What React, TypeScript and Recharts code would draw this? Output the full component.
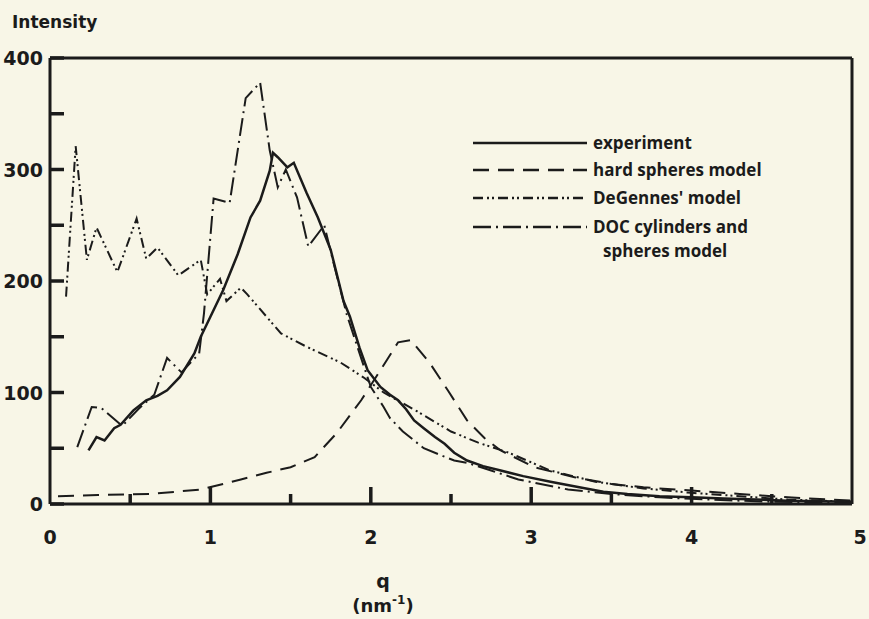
import React from 'react';
import { ComposedChart, Line, Scatter, XAxis, YAxis, ReferenceLine, Legend } from 'recharts';

// experiment
const expQ = [0.24, 0.29, 0.34, 0.4, 0.44, 0.52, 0.6, 0.67, 0.73, 0.81, 0.9, 0.94, 1.0, 1.08, 1.17, 1.25, 1.31, 1.37, 1.39, 1.42, 1.48, 1.52, 1.6, 1.67, 1.75, 1.83, 1.87, 1.93, 1.98, 2.06, 2.12, 2.17, 2.22, 2.27, 2.33, 2.4, 2.46, 2.52, 2.6, 2.7, 2.81, 2.95, 3.12, 3.3, 3.45, 3.6, 3.8, 4.0, 4.2, 4.4, 4.6, 4.8, 5.0];
const expI = [48, 60, 57, 68, 71, 84, 93, 97, 102, 114, 135, 150, 168, 192, 224, 257, 272, 299, 315, 311, 302, 306, 279, 257, 228, 182, 168, 140, 120, 105, 98, 93, 85, 75, 68, 60, 54, 46, 39, 34, 30, 25, 20, 15, 11, 9, 7, 6, 5, 4, 3, 2.5, 2];

// hard spheres model
const hsQ = [0.05, 0.3, 0.63, 0.94, 1.19, 1.35, 1.5, 1.65, 1.79, 1.94, 2.06, 2.17, 2.25, 2.37, 2.48, 2.6, 2.71, 2.81, 3.02, 3.27, 3.5, 3.7, 4.0, 4.3, 4.6, 5.0];
const hsI = [7, 8, 9, 13, 22, 28, 33, 42, 64, 93, 120, 145, 147, 126, 102, 75, 59, 48, 33, 24, 18, 15, 12, 9, 6, 3];

// DeGennes' model
const dgQ = [0.1, 0.16, 0.23, 0.29, 0.42, 0.54, 0.6, 0.67, 0.8, 0.94, 0.98, 1.06, 1.1, 1.19, 1.23, 1.44, 1.6, 1.81, 1.96, 2.08, 2.29, 2.5, 2.67, 2.86, 3.12, 3.4, 3.7, 4.0, 4.3, 4.6, 5.0];
const dgI = [186, 321, 219, 248, 208, 256, 220, 230, 205, 219, 188, 202, 182, 194, 188, 153, 141, 127, 113, 100, 83, 65, 55, 46, 30, 20, 14, 10, 7, 4, 2];

// DOC cylinders and spheres model
const docQ = [0.17, 0.26, 0.32, 0.45, 0.55, 0.65, 0.73, 0.82, 0.93, 0.96, 1.02, 1.12, 1.22, 1.31, 1.37, 1.42, 1.47, 1.54, 1.61, 1.71, 1.77, 1.85, 1.93, 2.0, 2.08, 2.12, 2.2, 2.27, 2.33, 2.45, 2.52, 2.6, 2.75, 2.92, 3.23, 3.5, 3.8, 4.1, 4.5, 5.0];
const docI = [51, 87, 86, 70, 85, 98, 131, 118, 135, 171, 274, 270, 364, 378, 317, 284, 300, 275, 231, 250, 215, 170, 135, 105, 87, 77, 65, 57, 50, 43, 39, 37, 30, 22, 13, 9, 6, 4, 2, 1];

const xTicks = [0, 1, 2, 3, 4, 5];
const yTicks = [0, 50, 100, 150, 200, 250, 300, 350, 400];
const xMarks = [0.5, 1, 1.5, 2, 2.5, 3, 3.5, 4, 4.5];

const names = ['experiment', 'hard spheres model', "DeGennes' model", 'DOC cylinders and spheres model'];
const legendRows = [143, 170, 198, 227];

const toRows = (qs: number[], vals: number[]) => qs.map((q, i) => ({ q, v: vals[i] }));

const font = "'DejaVu Sans', sans-serif";
const ink = '#1b1b1b';

const dashes: Record<string, string | undefined> = {
  experiment: undefined,
  'hard spheres model': '16 9',
  "DeGennes' model": '10 4 2 3 2 4',
  'DOC cylinders and spheres model': '18 5 2 5',
};

// inward tick marks on the q axis, at points placed by the chart's own scales
const XMark = (props: any) => {
  const { cx, cy, payload } = props;
  const len = Number.isInteger(payload.q) ? 17 : 10;
  return <line x1={cx} x2={cx} y1={cy} y2={cy - len} stroke={ink} strokeWidth={3.5} />;
};

const YTick = (props: any) => {
  const { x, y, payload } = props;
  if (payload.value % 100 !== 0) return <g />;
  return (
    <text x={x + 1} y={y} dy={7} textAnchor="end" fontFamily={font} fontWeight={800} fontSize={19} fill={ink}>
      {payload.value}
    </text>
  );
};

const XTick = (props: any) => {
  const { x, y, payload } = props;
  return (
    <text x={x + (payload.value === 5 ? 8 : 0)} y={y + 40} textAnchor="middle" fontFamily={font} fontWeight={800} fontSize={19} fill={ink}>
      {payload.value}
    </text>
  );
};

const renderLegend = () => (
  <svg width={320} height={150} style={{ overflow: 'visible' }}>
    {names.map((name, i) => {
      const y = legendRows[i] - 118;
      const lines = name.startsWith('DOC') ? ['DOC cylinders and', 'spheres model'] : [name];
      return (
        <g key={name}>
          <line x1={3} x2={117} y1={y} y2={y} stroke={ink} strokeWidth={2.5} strokeDasharray={dashes[name]} />
          {lines.map((t, j) => (
            <text key={t} x={j === 0 ? 123 : 133} y={y + j * 24} dy={6} fontFamily="'Open Sans', 'DejaVu Sans', sans-serif" fontWeight={700} fontSize={17} fill={ink}>
              {t}
            </text>
          ))}
        </g>
      );
    })}
  </svg>
);

const XLabel = (props: any) => {
  const vb = props.viewBox;
  const cx = 383;
  return (
    <g fontFamily={font} fontWeight={700} fill={ink}>
      <text x={cx} y={vb.y + 84} textAnchor="middle" fontSize={19}>q</text>
      <text x={cx} y={vb.y + 108} textAnchor="middle" fontSize={18}>
        (nm<tspan dy={-8} fontSize={12}>-1</tspan><tspan dy={8}>)</tspan>
      </text>
    </g>
  );
};

const YLabel = (props: any) => {
  const vb = props.viewBox;
  return (
    <text x={12} y={vb.y - 30} fontFamily={font} fontWeight={700} fontSize={17} fill={ink}>
      Intensity
    </text>
  );
};

export default function App() {
  return (
    <div style={{ position: 'absolute', left: 0, top: 0, width: 869, height: 619, background: '#f8f6e7' }}>
      <ComposedChart width={869} height={619} margin={{ top: 58, right: 17, bottom: 0, left: 0 }}>
        <XAxis
          dataKey="q"
          type="number"
          domain={[0, 5]}
          ticks={xTicks}
          allowDataOverflow
          tickSize={0}
          tickMargin={0}
          tickLine={false}
          height={115}
          axisLine={{ stroke: ink, strokeWidth: 3 }}
          tick={<XTick />}
          label={<XLabel />}
        />
        <YAxis
          type="number"
          domain={[0, 400]}
          ticks={yTicks}
          allowDataOverflow
          width={50}
          tickSize={-14}
          tickMargin={22}
          tickLine={{ stroke: ink, strokeWidth: 3.5 }}
          axisLine={{ stroke: ink, strokeWidth: 3 }}
          tick={<YTick />}
          label={<YLabel />}
        />
        <ReferenceLine y={400} stroke={ink} strokeWidth={3} />
        <ReferenceLine x={5} stroke={ink} strokeWidth={3} />
        <Scatter data={xMarks.map((m) => ({ q: m, v: 0 }))} dataKey="v" shape={<XMark />} legendType="none" isAnimationActive={false} />
        <Legend
          layout="vertical"
          align="center"
          verticalAlign="middle"
          content={renderLegend}
          wrapperStyle={{ position: 'absolute', left: 470, top: 118, width: 320 }}
        />
        <Line data={toRows(expQ, expI)} dataKey="v" name={names[0]} type="linear" stroke={ink} strokeWidth={2.5} dot={false} isAnimationActive={false} />
        <Line data={toRows(hsQ, hsI)} dataKey="v" name={names[1]} type="linear" stroke={ink} strokeWidth={2} strokeDasharray={dashes[names[1]]} dot={false} isAnimationActive={false} />
        <Line data={toRows(dgQ, dgI)} dataKey="v" name={names[2]} type="linear" stroke={ink} strokeWidth={2} strokeDasharray={dashes[names[2]]} dot={false} isAnimationActive={false} />
        <Line data={toRows(docQ, docI)} dataKey="v" name={names[3]} type="linear" stroke={ink} strokeWidth={2} strokeDasharray={dashes[names[3]]} dot={false} isAnimationActive={false} />
      </ComposedChart>
    </div>
  );
}
